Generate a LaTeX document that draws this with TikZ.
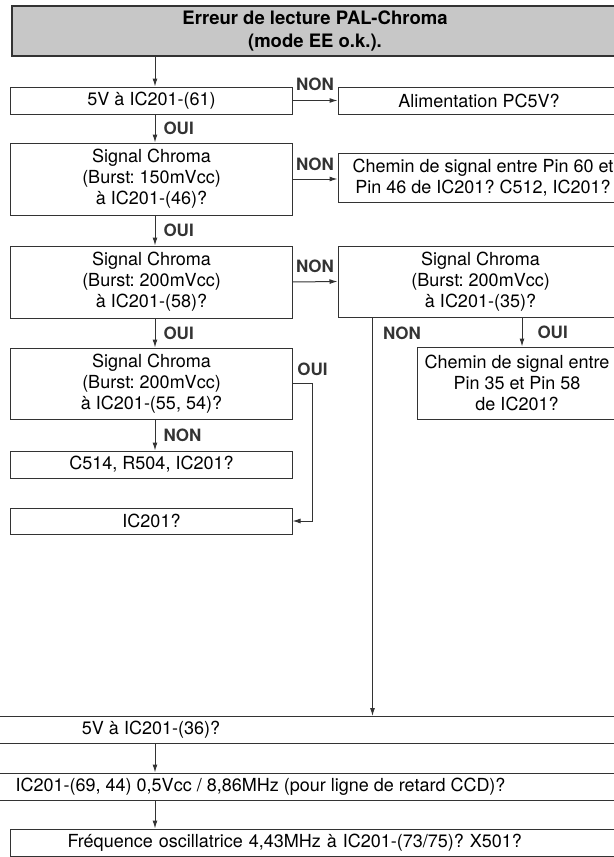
\documentclass[tikz,border=0pt]{standalone}
\usepackage{fontspec}
\setmainfont{TeX Gyre Heros}
\usetikzlibrary{arrows.meta}
\frenchspacing

\begin{document}
\begin{tikzpicture}[
        x=1bp, y=-1bp,
        box/.style={rectangle, draw=black!80, line width=1bp, inner sep=2bp, minimum width=281bp, minimum height=27bp, align=center, font=\fontsize{18bp}{21bp}\selectfont},
        headbox/.style={box, fill=black!22, line width=2bp, font=\fontsize{18.5bp}{23bp}\selectfont\bfseries},
        lbl/.style={font=\fontsize{17bp}{19bp}\selectfont\bfseries, inner sep=1bp},
        arrow/.style={-{Latex[length=8bp,width=5bp]}, line width=1bp, color=black!80}
    ]
        \useasboundingbox (0,0) rectangle (614,857);
        \coordinate (spine) at (155,0);

        % Title
        \node[headbox, minimum width=606bp, minimum height=50bp] (head) at (315,31) {Erreur de lecture PAL-Chroma\\(mode EE o.k.).};

        % Left column
        \node[box] (q61) at (151.5,100.5) {5V à IC201-(61)};
        \node[box, minimum height=72bp] (q46) at (151.5,179) {Signal Chroma\\(Burst: 150mVcc)\\à IC201-(46)?};
        \node[box, minimum height=72bp] (q58) at (151.5,282) {Signal Chroma\\(Burst: 200mVcc)\\à IC201-(58)?};
        \node[box, minimum height=71bp] (q55) at (151.5,383.5) {Signal Chroma\\(Burst: 200mVcc)\\à IC201-(55, 54)?};
        \node[box] (c514) at (151.5,464.5) {C514, R504, IC201?};
        \node[box, minimum height=26bp] (ic201) at (151.5,521) {IC201?};

        % Right column
        \node[box, minimum width=282bp] (alim) at (479,100.5) {Alimentation PC5V?};
        \node[box, minimum width=290bp, minimum height=49bp] (path60) at (483,177.5) {Chemin de signal entre Pin 60 et\\Pin 46 de IC201? C512, IC201?};
        \node[box, minimum width=285bp, minimum height=71bp] (q35) at (480.5,281.5) {Signal Chroma\\(Burst: 200mVcc)\\à IC201-(35)?};
        \node[box, minimum width=200bp, minimum height=72bp] (path35) at (517,383) {Chemin de signal entre\\Pin 35 et Pin 58\\de IC201?};

        % Wide boxes at the bottom
        \node[box, minimum width=948bp] (q36) at (151,730) {5V à IC201-(36)?};
        \node[box, anchor=east, inner xsep=120bp] (q69) at (626,786.5) {IC201-(69, 44) 0,5Vcc / 8,86MHz (pour ligne de retard CCD)?};
        \node[box, anchor=west, text width=560bp, align=left, inner xsep=57bp] (osc) at (10,842.5) {Fréquence oscillatrice 4,43MHz à IC201-(73/75)? X501?};

        \coordinate (oui35) at ([xshift=5bp]path35.north);
        \coordinate (non35) at ([xshift=35bp]q35.south west);

        % Connections
        \draw[arrow] (head.south -| spine) -- (q61.north -| spine);
        \draw[arrow] (q61.east) -- (alim.west) node[lbl, midway, above=8bp] {NON};
        \draw[arrow] (q61.south -| spine) -- (q46.north -| spine) node[lbl, midway, right=7bp] {OUI};

        \draw[arrow] (q46.east) -- (q46.east -| path60.west) node[lbl, midway, above=7bp] {NON};
        \draw[arrow] (q46.south -| spine) -- (q58.north -| spine) node[lbl, midway, right=7bp] {OUI};

        \draw[arrow] (q58.east) -- (q35.west) node[lbl, midway, above=8bp] {NON};
        \draw[arrow] (q58.south -| spine) -- (q55.north -| spine) node[lbl, midway, right=7bp] {OUI};

        \draw[arrow] (q55.south -| spine) -- (c514.north -| spine) node[lbl, midway, right=7bp] {NON};
        \draw[arrow] (q55.east) -- ++(20,0) node[lbl, above=6bp] {OUI} |- (ic201.east);

        \draw[arrow] (q35.south -| oui35) -- (oui35) node[lbl, midway, right=14bp] {OUI};
        \draw[arrow] (non35) -- (non35 |- q36.north) node[lbl, pos=0.04, right=9bp] {NON};

        \draw[arrow] (q36.south -| spine) -- (q69.north -| spine);
        \draw[arrow] (q69.south -| spine) -- (osc.north -| spine);
    \end{tikzpicture}
\end{document}
